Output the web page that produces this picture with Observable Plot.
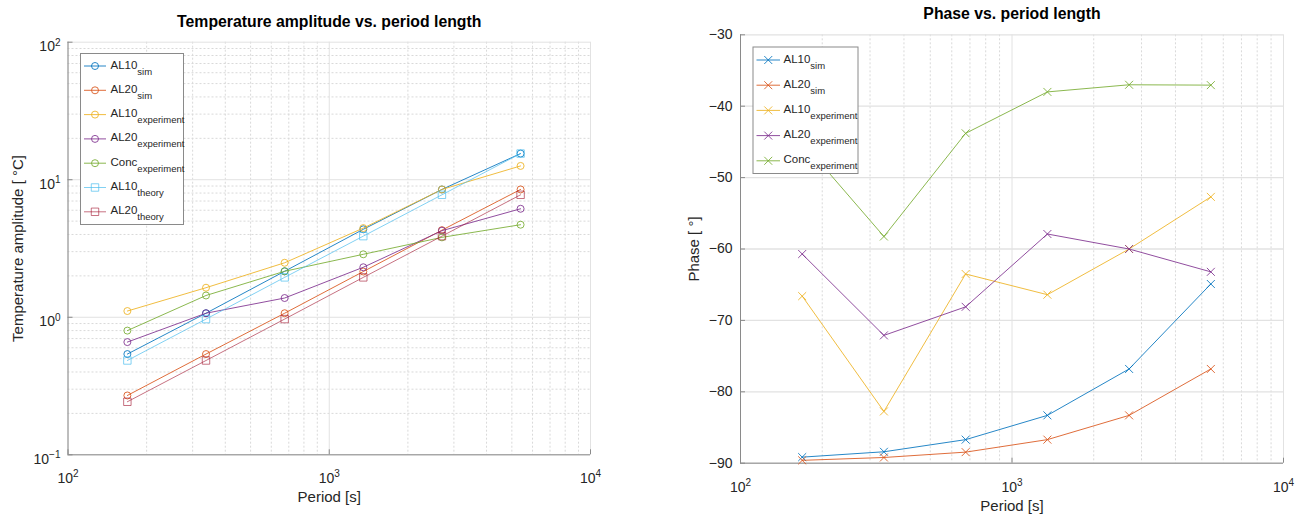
<!DOCTYPE html>
<html><head><meta charset="utf-8">
<script src="https://cdn.jsdelivr.net/npm/d3@7"></script>
<script src="https://cdn.jsdelivr.net/npm/@observablehq/plot@0.6"></script>
<style>
body{margin:0;background:#fff;}
#wrap{position:relative;width:1306px;height:516px;overflow:hidden;background:#fff;}
#wrap svg{position:absolute;top:0;}
</style></head><body><div id="wrap"></div>
<script>
// ---------- data ----------
const periods = [168.75, 337.5, 675, 1350, 2700, 5400];

const ampAL10sim    = [0.54, 1.07, 2.16, 4.36, 8.5, 15.5];
const ampAL20sim    = [0.27, 0.54, 1.07, 2.15, 4.3, 8.5];
const ampAL10exp    = [1.11, 1.64, 2.49, 4.45, 8.5, 12.6];
const ampAL20exp    = [0.66, 1.07, 1.38, 2.31, 4.26, 6.15];
const ampConcExp    = [0.80, 1.44, 2.16, 2.87, 3.81, 4.71];
const ampAL10theory = [0.485, 0.97, 1.95, 3.89, 7.77, 15.5];
const ampAL20theory = [0.243, 0.485, 0.97, 1.95, 3.89, 7.77];

const phAL10sim = [-89.15, -88.4, -86.7, -83.3, -76.8, -64.9];
const phAL20sim = [-89.6, -89.2, -88.45, -86.7, -83.3, -76.8];
const phAL10exp = [-66.6, -82.75, -63.5, -66.4, -60.0, -52.7];
const phAL20exp = [-60.7, -72.1, -68.1, -57.9, -60.0, -63.2];
const phConcExp = [-45.0, -58.25, -43.8, -38.0, -37.0, -37.05];

const seriesNames = ["AL10", "AL20", "AL10", "AL20", "Conc", "AL10", "AL20"];
const seriesSubs  = ["sim", "sim", "experiment", "experiment", "experiment", "theory", "theory"];

const xMajorTicks = [100, 1000, 10000];
const xMinorTicks = [200, 300, 400, 500, 600, 700, 800, 900, 2000, 3000, 4000, 5000, 6000, 7000, 8000, 9000];
const ampMajorTicks = [0.1, 1, 10, 100];
const ampMinorTicks = [0.2, 0.3, 0.4, 0.5, 0.6, 0.7, 0.8, 0.9, 2, 3, 4, 5, 6, 7, 8, 9, 20, 30, 40, 50, 60, 70, 80, 90];
const phaseTicks = [-90, -80, -70, -60, -50, -40, -30];

const titleAmp = "Temperature amplitude vs. period length";
const titlePhase = "Phase vs. period length";
const xLabel = "Period [s]";
const yLabelAmp = "Temperature amplitude [ °C]";
const yLabelPhase = "Phase [ °]";

// ---------- styles ----------
const FONT = "'Liberation Sans', Arial, Helvetica, sans-serif";
const colors = ["#0072BD", "#D95319", "#EDB120", "#7E2F8E", "#77AC30", "#4DBEEE", "#A2142F"];
const opac = [0.85, 0.85, 0.85, 0.85, 0.85, 0.7, 0.6];
const ampSymbols = ["circle", "circle", "circle", "circle", "circle", "square", "square"];
const ampR = [3.5, 3.5, 3.5, 3.5, 3.5, 4.2, 4.2];
const GRID_MAJOR = "#e2e2e2", GRID_MINOR = "#d9d9d9", AXIS = "#8a8a8a", TXT = "#262626";

const ampValues = [ampAL10sim, ampAL20sim, ampAL10exp, ampAL20exp, ampConcExp, ampAL10theory, ampAL20theory];
const phValues = [phAL10sim, phAL20sim, phAL10exp, phAL20exp, phConcExp];

const ampRows = ampValues.map((vals, i) => periods.map((p, j) => ({period: p, value: vals[j], s: i})));
const phRows = phValues.map((vals, i) => periods.map((p, j) => ({period: p, value: vals[j], s: i})));

function supLabel(d) {
  const e = Math.round(Math.log10(d));
  return "10^" + (e < 0 ? "\u2212" + (-e) : e);
}

function fixSup(svg) {
  d3.select(svg).selectAll("text").each(function () {
    const s = this.textContent;
    if (this.childElementCount > 0 || s.indexOf("^") < 0) return;
    const [b, e] = s.split("^");
    const t = d3.select(this);
    t.text(null);
    t.append("tspan").text(b);
    t.append("tspan").attr("font-size", 10).attr("dy", "-0.55em").text(e);
  });
}

function drawLegend(svg, cfg) {
  const g = d3.select(svg).append("g").attr("font-family", FONT).attr("text-anchor", "start");
  g.append("rect").attr("x", cfg.x0 + 0.5).attr("y", cfg.y0 + 0.5)
    .attr("width", cfg.x1 - cfg.x0).attr("height", cfg.y1 - cfg.y0)
    .attr("fill", "#fff").attr("stroke", "#8a8a8a").attr("stroke-width", 1);
  for (let i = 0; i < cfg.n; i++) {
    const y = cfg.yFirst + i * cfg.step;
    g.append("line").attr("x1", cfg.lx0).attr("x2", cfg.lx1).attr("y1", y).attr("y2", y)
      .attr("stroke", colors[i]).attr("stroke-opacity", opac[i]).attr("stroke-width", 1);
    const sym = cfg.symbols[i] === "square" ? d3.symbolSquare : cfg.symbols[i] === "times" ? d3.symbolTimes : d3.symbolCircle;
    g.append("path").attr("d", d3.symbol(sym, Math.PI * cfg.r[i] * cfg.r[i])())
      .attr("transform", `translate(${(cfg.lx0 + cfg.lx1) / 2},${y})`)
      .attr("fill", "none").attr("stroke", colors[i]).attr("stroke-opacity", opac[i]).attr("stroke-width", 1);
    const t = g.append("text").attr("x", cfg.tx).attr("y", y + 2.5).attr("fill", TXT).attr("font-size", 11.5).attr("text-anchor", "start");
    t.append("tspan").text(seriesNames[i]);
    t.append("tspan").attr("font-size", 9.5).attr("dy", 6).text(seriesSubs[i]);
  }
}

// ---------- left: amplitude ----------
const L = {w: 653, h: 516, ml: 67.5, mr: 63, mt: 41.7, mb: 61.7};
const Lpw = L.w - L.ml - L.mr, Lph = L.h - L.mt - L.mb;

const ampMarks = [];
ampRows.forEach((rows, i) => {
  ampMarks.push(Plot.line(rows, {x: "period", y: "value", stroke: colors[i], strokeOpacity: opac[i], strokeWidth: 1}));
  ampMarks.push(Plot.dot(rows, {x: "period", y: "value", symbol: ampSymbols[i], r: ampR[i], stroke: colors[i], strokeOpacity: opac[i], fill: "none", strokeWidth: 1}));
});

const left = Plot.plot({
  width: L.w, height: L.h,
  marginLeft: L.ml, marginRight: L.mr, marginTop: L.mt, marginBottom: L.mb,
  style: {fontFamily: FONT, background: "transparent", overflow: "visible"},
  x: {type: "log", domain: [100, 10000], axis: null},
  y: {type: "log", domain: [0.1, 100], axis: null},
  marks: [
    Plot.ruleX(xMinorTicks, {x: d => d, stroke: GRID_MINOR, strokeDasharray: "2,2"}),
    Plot.ruleY(ampMinorTicks, {y: d => d, stroke: GRID_MINOR, strokeDasharray: "2,2"}),
    Plot.ruleX(xMajorTicks, {x: d => d, stroke: GRID_MAJOR}),
    Plot.ruleY(ampMajorTicks, {y: d => d, stroke: GRID_MAJOR}),
    Plot.ruleX([100], {x: d => d, stroke: AXIS}),
    Plot.ruleY([0.1], {y: d => d, stroke: AXIS}),
    Plot.ruleX(xMajorTicks, {x: d => d, stroke: AXIS, insetTop: Lph - 5}),
    Plot.ruleY(ampMajorTicks, {y: d => d, stroke: AXIS, insetRight: Lpw - 5}),
    ...ampMarks,
    Plot.text(xMajorTicks, {x: d => d, text: supLabel, frameAnchor: "bottom", lineAnchor: "middle", textAnchor: "middle", dy: 23.7, fontSize: 14, fill: TXT}),
    Plot.text(ampMajorTicks, {y: d => d, text: supLabel, frameAnchor: "left", lineAnchor: "middle", textAnchor: "end", dx: -7.5, dy: 4.5, fontSize: 14, fill: TXT}),
    Plot.text([titleAmp], {text: d => d, frameAnchor: "top", lineAnchor: "middle", textAnchor: "middle", dy: -20, fontSize: 15.8, fontWeight: "bold", fill: "#000"}),
    Plot.text([xLabel], {text: d => d, frameAnchor: "bottom", lineAnchor: "middle", textAnchor: "middle", dy: 42.4, fontSize: 15, fill: TXT}),
    Plot.text([yLabelAmp], {text: d => d, frameAnchor: "left", lineAnchor: "middle", textAnchor: "middle", rotate: -90, dx: -49.5, fontSize: 15, fill: TXT})
  ]
});
left.style.left = "0px";
fixSup(left);
drawLegend(left, {x0: 80, y0: 53, x1: 183, y1: 224, n: 7, yFirst: 66, step: 24.3, lx0: 84, lx1: 106, tx: 110.5, symbols: ampSymbols, r: ampR});
document.getElementById("wrap").appendChild(left);

// ---------- right: phase ----------
const R = {w: 653, h: 516, ml: 87, mr: 23, mt: 34.3, mb: 53.3, off: 653};
const Rpw = R.w - R.ml - R.mr, Rph = R.h - R.mt - R.mb;
const phSymbols = ["times", "times", "times", "times", "times"];
const phR = [3.7, 3.7, 3.7, 3.7, 3.7];

const phMarks = [];
phRows.forEach((rows, i) => {
  phMarks.push(Plot.line(rows, {x: "period", y: "value", stroke: colors[i], strokeOpacity: opac[i], strokeWidth: 1}));
  phMarks.push(Plot.dot(rows, {x: "period", y: "value", symbol: "times", r: phR[i], stroke: colors[i], strokeOpacity: opac[i], strokeWidth: 1}));
});

const right = Plot.plot({
  width: R.w, height: R.h,
  marginLeft: R.ml, marginRight: R.mr, marginTop: R.mt, marginBottom: R.mb,
  style: {fontFamily: FONT, background: "transparent", overflow: "visible"},
  x: {type: "log", domain: [100, 10000], axis: null},
  y: {domain: [-90, -30], axis: null},
  marks: [
    Plot.ruleX(xMinorTicks, {x: d => d, stroke: GRID_MINOR, strokeDasharray: "2,2"}),
    Plot.ruleX(xMajorTicks, {x: d => d, stroke: GRID_MAJOR}),
    Plot.ruleY(phaseTicks, {y: d => d, stroke: GRID_MAJOR, strokeWidth: 1.3}),
    Plot.ruleX([100], {x: d => d, stroke: AXIS}),
    Plot.ruleY([-90], {y: d => d, stroke: AXIS}),
    Plot.ruleX(xMajorTicks, {x: d => d, stroke: AXIS, insetTop: Rph - 5}),
    Plot.ruleY(phaseTicks, {y: d => d, stroke: AXIS, insetRight: Rpw - 5}),
    ...phMarks,
    Plot.text(xMajorTicks, {x: d => d, text: supLabel, frameAnchor: "bottom", lineAnchor: "middle", textAnchor: "middle", dy: 24.3, fontSize: 14, fill: TXT}),
    Plot.text(phaseTicks, {y: d => d, text: d => "\u2212" + Math.abs(d), frameAnchor: "left", lineAnchor: "middle", textAnchor: "end", dx: -8, fontSize: 14, fill: TXT}),
    Plot.text([titlePhase], {text: d => d, frameAnchor: "top", lineAnchor: "middle", textAnchor: "middle", dy: -21, fontSize: 15.8, fontWeight: "bold", fill: "#000"}),
    Plot.text([xLabel], {text: d => d, frameAnchor: "bottom", lineAnchor: "middle", textAnchor: "middle", dy: 43.3, fontSize: 15, fill: TXT}),
    Plot.text([yLabelPhase], {text: d => d, frameAnchor: "left", lineAnchor: "middle", textAnchor: "middle", rotate: -90, dx: -46, fontSize: 15, fill: TXT})
  ]
});
right.style.left = R.off + "px";
fixSup(right);
drawLegend(right, {x0: 752.5 - R.off, y0: 46.5, x1: 857.5 - R.off, y1: 173, n: 5, yFirst: 60, step: 25.2, lx0: 756.5 - R.off, lx1: 780 - R.off, tx: 783.5 - R.off, symbols: phSymbols, r: phR});
document.getElementById("wrap").appendChild(right);
</script>
</body></html>
